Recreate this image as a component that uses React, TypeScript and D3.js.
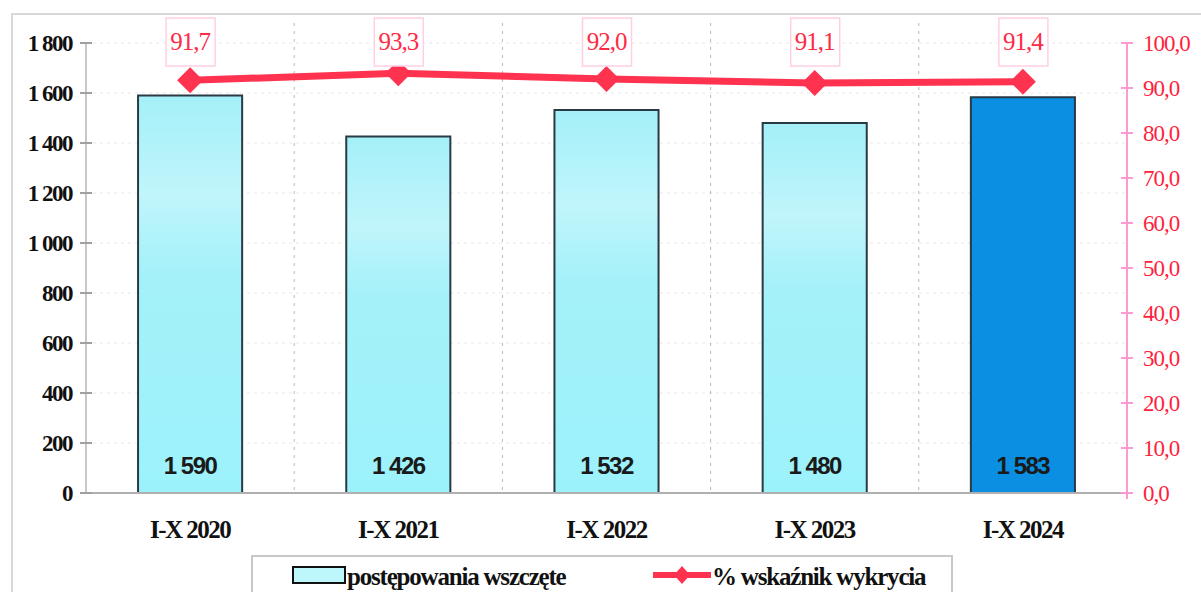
import React from "react";
import * as d3 from "d3";

const categories = ["I-X 2020", "I-X 2021", "I-X 2022", "I-X 2023", "I-X 2024"];
const cases = [1590, 1426, 1532, 1480, 1583];
const detection = [91.7, 93.3, 92.0, 91.1, 91.4];
const leftTicks = [0, 200, 400, 600, 800, 1000, 1200, 1400, 1600, 1800];
const rightTicks = [0, 10, 20, 30, 40, 50, 60, 70, 80, 90, 100];

const W = 1201, H = 592;
const L = 86, R = 1127, T = 43, B = 493;

export default function App() {
  const x = d3.scaleBand<string>().domain(categories).range([L, R]).paddingInner(0.5).paddingOuter(0.25);
  const xo = d3.scaleBand<string>().domain(categories).range([L, R]);
  const y = d3.scaleLinear().domain([0, 1800]).range([B, T]);
  const y2 = d3.scaleLinear().domain([0, 100]).range([B, T]);
  const fmtInt = (v: number) => (v >= 1000 ? `${Math.floor(v / 1000)} ${String(v % 1000).padStart(3, "0")}` : String(v));
  const fmtDec = (v: number) => v.toFixed(1).replace(".", ",");
  const line = d3.line<number>().x((_, i) => xo(categories[i])! + xo.bandwidth() / 2).y((d) => y2(d));
  const serif = "'Liberation Serif', 'DejaVu Serif', serif";
  const sans = "'Liberation Sans', Arial, sans-serif";
  return (
    <svg width={W} height={H} style={{ display: "block", position: "absolute", left: 0, top: 0 }}>
      <defs>
        <linearGradient id="cyan" x1="0" y1="0" x2="0" y2="1">
          <stop offset="0" stopColor="#a4f0f8" />
          <stop offset="0.25" stopColor="#c0f5fb" />
          <stop offset="0.45" stopColor="#a4f1f9" />
          <stop offset="1" stopColor="#9cf2fb" />
        </linearGradient>
      </defs>
      <rect x={0} y={0} width={W} height={H} fill="#ffffff" />
      <rect x={12} y={14} width={W} height={H} fill="none" stroke="#d8d8d8" strokeWidth={2} />
      {/* gridlines */}
      {leftTicks.slice(1).map((t) => (
        <line key={"h" + t} x1={L} x2={R} y1={y(t)} y2={y(t)} stroke="#e8e8e8" strokeDasharray="3,4" />
      ))}
      {categories.slice(1).map((c) => (
        <line key={"v" + c} x1={xo(c)!} x2={xo(c)!} y1={T - 20} y2={B} stroke="#b8b8b8" strokeDasharray="3,5" />
      ))}
      {/* bars */}
      {cases.map((v, i) => (
        <g key={"b" + i}>
          <rect x={x(categories[i])!} y={y(v)} width={x.bandwidth()} height={B - y(v)}
            fill={i === 4 ? "#0a8fe3" : "url(#cyan)"} stroke="#2a3a44" strokeWidth={2} />
          <text x={x(categories[i])! + x.bandwidth() / 2} y={474} textAnchor="middle" fontFamily={sans}
            fontWeight="bold" fontSize={24} fill="#1a1a1a" letterSpacing={-1.5}>{fmtInt(v)}</text>
        </g>
      ))}
      {/* left axis */}
      <line x1={L} x2={L} y1={T} y2={B} stroke="#c8c8c8" strokeWidth={2} />
      <line x1={L} x2={R} y1={B} y2={B} stroke="#b0b0b0" strokeWidth={2} />
      {leftTicks.map((t) => (
        <g key={"l" + t}>
          <line x1={L - 6} x2={L + 6} y1={y(t)} y2={y(t)} stroke="#a0a0a0" strokeWidth={2} />
          <text x={72} y={y(t) + 8} textAnchor="end" fontFamily={serif} fontWeight="bold" fontSize={23} fill="#111" letterSpacing={-1.5}>{fmtInt(t)}</text>
        </g>
      ))}
      {/* right axis */}
      <line x1={R} x2={R} y1={T} y2={B + 6} stroke="#ff9ad0" strokeWidth={2} />
      {rightTicks.map((t) => (
        <g key={"r" + t}>
          <line x1={R - 6} x2={R + 6} y1={y2(t)} y2={y2(t)} stroke="#ff9ad0" strokeWidth={2} />
          <text x={1143} y={y2(t) + 8} fontFamily={serif} fontSize={23} fill="#ff1f3e" letterSpacing={-1}>{fmtDec(t)}</text>
        </g>
      ))}
      {/* x labels */}
      {categories.map((c) => (
        <text key={"x" + c} x={xo(c)! + xo.bandwidth() / 2} y={538} textAnchor="middle" fontFamily={serif}
          fontWeight="bold" fontSize={25} fill="#111" letterSpacing={-1.5}>{c}</text>
      ))}
      {/* line */}
      <path d={line(detection) || ""} fill="none" stroke="#ff3250" strokeWidth={7} />
      {detection.map((v, i) => {
        const cx = xo(categories[i])! + xo.bandwidth() / 2;
        const cy = y2(v);
        return (
          <g key={"p" + i}>
            <path d={`M${cx},${cy - 13} L${cx + 13},${cy} L${cx},${cy + 13} L${cx - 13},${cy} Z`} fill="#ff3250" />
            <rect x={cx - 24} y={18} width={49} height={48} fill="#fff" stroke="#ffd0e4" strokeWidth={1.5} />
            <text x={cx} y={50} textAnchor="middle" fontFamily={serif} fontSize={25} fill="#ff2a45" letterSpacing={-1}>{fmtDec(v)}</text>
          </g>
        );
      })}
      {/* legend */}
      <rect x={252} y={556} width={700} height={60} fill="#fff" stroke="#c8c8c8" strokeWidth={2} />
      <rect x={293} y={567} width={52} height={16} fill="#bdf7fc" stroke="#111" strokeWidth={2} />
      <text x={347} y={585} fontFamily={serif} fontWeight="bold" fontSize={25} fill="#111" letterSpacing={-1.2}>postępowania wszczęte</text>
      <line x1={653} x2={711} y1={575} y2={575} stroke="#ff3250" strokeWidth={6} />
      <path d="M682,566 L690,575 L682,584 L674,575 Z" fill="#ff3250" />
      <text x={712} y={585} fontFamily={serif} fontWeight="bold" fontSize={25} fill="#111" letterSpacing={-1.2}>% wskaźnik wykrycia</text>
    </svg>
  );
}
